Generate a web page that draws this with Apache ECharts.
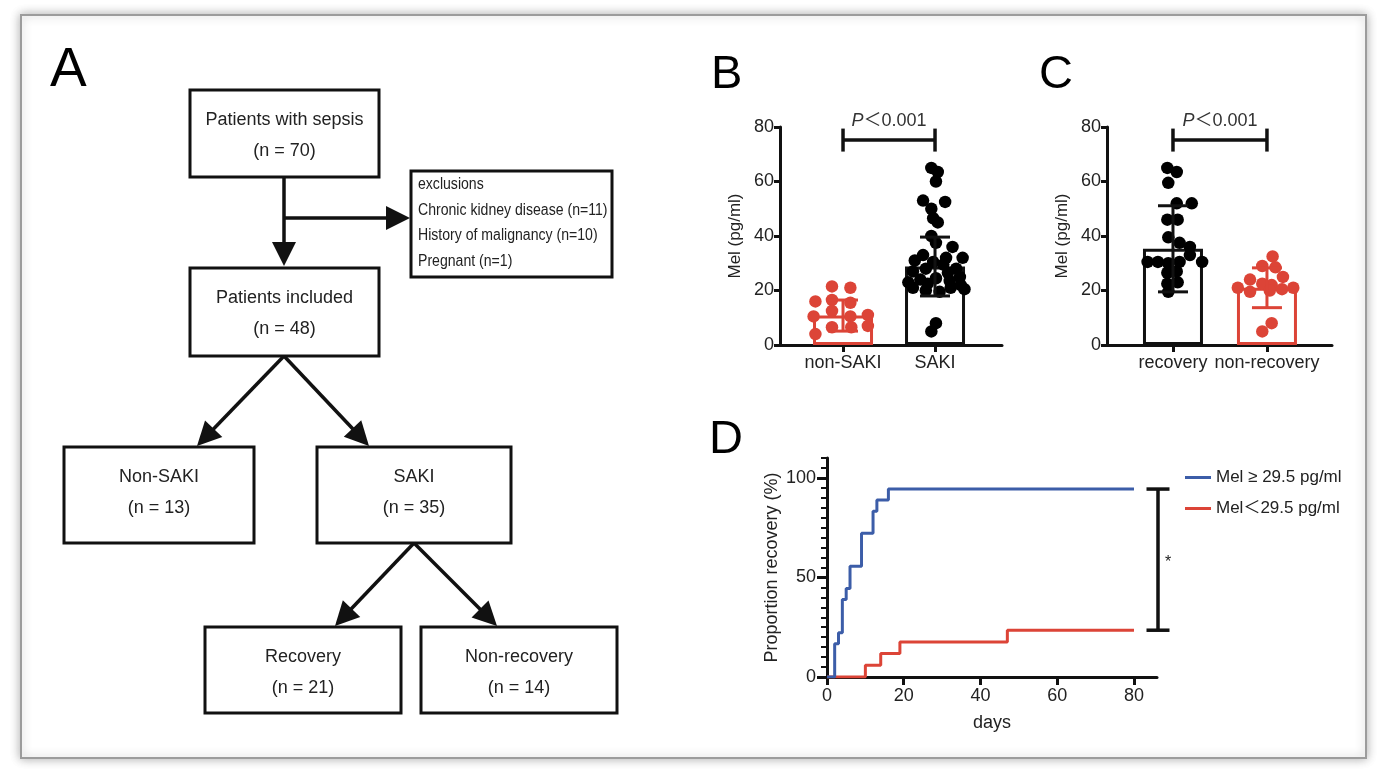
<!DOCTYPE html>
<html><head><meta charset="utf-8">
<script src="https://cdn.jsdelivr.net/npm/echarts@6/dist/echarts.min.js"></script>
<style>html,body{margin:0;padding:0;background:#fff}#c{width:1386px;height:780px}</style>
</head><body><div id="c"></div>
<script>
// ---------------- DATA ----------------
// Panel B
const groupsB = ['non-SAKI', 'SAKI'];
const nonSakiValues = [21.5, 21, 16, 16.5, 15.5, 12.5, 10.5, 11, 10.5, 6.5, 6.5, 7, 4];
const nonSakiJitter = [-0.12, 0.08, -0.30, -0.12, 0.08, -0.12, -0.32, 0.27, 0.08, -0.12, 0.09, 0.27, -0.30];
const sakiValues = [65, 63.5, 60, 53, 52.5, 50, 46.5, 45, 40, 37.5, 36, 33, 32, 32, 31, 30.5, 29.5, 28, 28, 27, 26.5, 25, 24.5, 24, 23.5, 23, 22.5, 22, 21, 21, 20.5, 20, 19.5, 8, 5];
const sakiJitter = [-0.04, 0.03, 0.01, -0.13, 0.11, -0.04, -0.02, 0.03, -0.04, 0.01, 0.19, -0.13, 0.12, 0.30, -0.22, -0.02, 0.09, -0.10, 0.23, -0.24, 0.14, 0.27, 0.01, -0.16, 0.16, -0.29, -0.08, 0.28, -0.24, 0.17, 0.32, -0.10, 0.05, 0.01, -0.04];
const barMeansB = [10.8, 28.8];
const barSDB = [5.7, 10.8];
const pTextB = 'P＜0.001';

// Panel C
const groupsC = ['recovery', 'non-recovery'];
const recoveryValues = [65, 63.5, 59.5, 52, 52, 46, 46, 39.5, 37.5, 36, 30.5, 30.5, 30, 30.5, 33, 30.5, 26.5, 27, 22.5, 23, 19.5];
const recoveryJitter = [-0.06, 0.04, -0.05, 0.04, 0.20, -0.06, 0.05, -0.05, 0.07, 0.18, -0.27, -0.16, -0.05, 0.07, 0.18, 0.31, -0.06, 0.04, -0.06, 0.05, -0.05];
const nonRecoveryValues = [32.5, 29, 28.5, 25, 24, 22.5, 22, 21, 21, 20.5, 20, 19.5, 8, 5];
const nonRecoveryJitter = [0.06, -0.05, 0.09, 0.17, -0.18, -0.05, 0.05, -0.31, 0.28, 0.16, 0.03, -0.18, 0.05, -0.05];
const barMeansC = [35.3, 21.0];
const barSDC = [15.8, 7.3];
const pTextC = 'P＜0.001';

// Panel D (Kaplan-Meier style recovery curves)
const kmHighDays = [0, 2, 3, 4, 5, 6, 9, 12, 13, 16, 80];
const kmHighPct  = [0, 16.7, 22.2, 38.9, 44.4, 55.6, 72.2, 83.3, 88.9, 94.4, 94.4];
const kmLowDays  = [0, 10, 14, 19, 47, 80];
const kmLowPct   = [0, 5.9, 11.8, 17.6, 23.5, 23.5];
const legendNames = ['Mel ≥ 29.5 pg/ml', 'Mel＜29.5 pg/ml'];
const starText = '*';

// Tick labels
const yTicksBC = [0, 20, 40, 60, 80];
const xTicksD = [0, 20, 40, 60, 80];
const yTicksD = [0, 50, 100];
const yMinorTicksD = [0,5,10,15,20,25,30,35,40,45,50,55,60,65,70,75,80,85,90,95,100,105,110];

// Panel A flowchart text
const panelLetters = ['A', 'B', 'C', 'D'];
const flowTexts = [
  ['Patients with sepsis', '(n = 70)'],
  ['Patients included', '(n = 48)'],
  ['Non-SAKI', '(n = 13)'],
  ['SAKI', '(n = 35)'],
  ['Recovery', '(n = 21)'],
  ['Non-recovery', '(n = 14)']
];
const exclusionTexts = ['exclusions', 'Chronic kidney disease (n=11)', 'History of malignancy (n=10)', 'Pregnant (n=1)'];

// ---------------- LAYOUT / STYLE ----------------
const FONT = '"Liberation Sans", Arial, "Noto Sans CJK SC", sans-serif';
const BLACK = '#111';
const RED = '#dc4437';
const BLUE = '#3c5da8';
const TXT = '#222';
const DOT = 12.5;

const flowRects = [[190,90,189,87],[190,268,189,88],[64,447,190,96],[317,447,194,96],[205,627,196,86],[421,627,196,86]];
const exclRect = [411,171,201,106];
const exclLineOffsets = [14, 40, 65, 91];
const arrows = [[284,177,284,266],[284,218,410,218],[284,356,197,446],[284,356,369,446],[414,543,335,626],[414,543,497,626]];
const letterPos = [[50,71,55],[711,75,47],[1039,75,47],[709,440,47]];

// ---------------- BUILD ----------------
const chart = echarts.init(document.getElementById('c'));
const graphics = [];
graphics.push({type:'rect', z:-5, shape:{x:21,y:15,width:1345,height:743},
  style:{fill:'#fff', stroke:'#9c9c9c', lineWidth:2, shadowBlur:10, shadowColor:'rgba(0,0,0,0.3)'}});
panelLetters.forEach((l,i)=>{
  const p = letterPos[i];
  graphics.push({type:'text', z:5, x:p[0], y:p[1], style:{text:l, fontSize:p[2], fontFamily:FONT, fill:'#000', align:'left', verticalAlign:'middle'}});
});
flowRects.forEach((r,i)=>{
  graphics.push({type:'rect', z:5, shape:{x:r[0],y:r[1],width:r[2],height:r[3]}, style:{fill:'#fff', stroke:BLACK, lineWidth:3}});
  flowTexts[i].forEach((t,j)=>{
    graphics.push({type:'text', z:6, x:r[0]+r[2]/2, y:r[1]+30+31*j, style:{text:t, fontSize:18, fontFamily:FONT, fill:TXT, align:'center', verticalAlign:'middle'}});
  });
});
graphics.push({type:'rect', z:5, shape:{x:exclRect[0],y:exclRect[1],width:exclRect[2],height:exclRect[3]}, style:{fill:'#fff', stroke:BLACK, lineWidth:3}});
exclusionTexts.forEach((t,j)=>{
  graphics.push({type:'text', z:6, x:exclRect[0]+7, y:exclRect[1]+exclLineOffsets[j], scaleX:0.88,
    style:{text:t, fontSize:16, fontFamily:FONT, fill:TXT, align:'left', verticalAlign:'middle'}});
});
arrows.forEach(a=>{
  const dx=a[2]-a[0], dy=a[3]-a[1], L=Math.hypot(dx,dy), ux=dx/L, uy=dy/L;
  const hl=24, hw=12;
  const bx=a[2]-ux*hl, by=a[3]-uy*hl;
  graphics.push({type:'line', z:4, shape:{x1:a[0],y1:a[1],x2:bx+ux*2,y2:by+uy*2}, style:{stroke:BLACK, lineWidth:3.5}});
  graphics.push({type:'polygon', z:4, shape:{points:[[a[2],a[3]],[bx-uy*hw,by+ux*hw],[bx+uy*hw,by-ux*hw]]}, style:{fill:BLACK}});
});

function jitterPoints(values, jitter, pos){ return values.map((v,i)=>[pos+jitter[i], v]); }

function errRender(colors){
  return function(params, api){
    const x=api.value(0), m=api.value(1), s=api.value(2);
    const top=api.coord([x,m+s]), bot=api.coord([x,m-s]);
    const hw=15, st={stroke:colors[params.dataIndex], lineWidth:3, fill:null};
    return {type:'group', children:[
      {type:'line', shape:{x1:top[0],y1:top[1],x2:bot[0],y2:bot[1]}, style:st},
      {type:'line', shape:{x1:top[0]-hw,y1:top[1],x2:top[0]+hw,y2:top[1]}, style:st},
      {type:'line', shape:{x1:bot[0]-hw,y1:bot[1],x2:bot[0]+hw,y2:bot[1]}, style:st}
    ]};
  };
}
function bracketRender(label){
  return function(params, api){
    const a=api.coord([api.value(0), api.value(2)]), b=api.coord([api.value(1), api.value(2)]);
    const c=11.5, st={stroke:BLACK, lineWidth:3.5, fill:null};
    return {type:'group', children:[
      {type:'line', shape:{x1:a[0],y1:a[1],x2:b[0],y2:b[1]}, style:st},
      {type:'line', shape:{x1:a[0],y1:a[1]-c,x2:a[0],y2:a[1]+c}, style:st},
      {type:'line', shape:{x1:b[0],y1:b[1]-c,x2:b[0],y2:b[1]+c}, style:st},
      {type:'text', x:(a[0]+b[0])/2, y:a[1]-19, style:{text:'{i|'+label.slice(0,1)+'}{n|'+label.slice(1)+'}',
        rich:{i:{fontStyle:'italic', fontSize:18, fontFamily:FONT, fill:'#333'}, n:{fontSize:18, fontFamily:FONT, fill:'#333'}},
        align:'center', verticalAlign:'middle'}}
    ]};
  };
}

function yAxisBC(grid){
  return {type:'value', gridIndex:grid, min:0, max:80, interval:20,
    name:'Mel (pg/ml)', nameLocation:'middle', nameGap:36, nameRotate:90,
    nameTextStyle:{fontSize:17, fontFamily:FONT, color:TXT},
    axisLine:{show:true, lineStyle:{color:BLACK, width:3}},
    axisTick:{show:true, length:6, lineStyle:{color:BLACK, width:3}},
    axisLabel:{fontSize:18, fontFamily:FONT, color:TXT, margin:6},
    splitLine:{show:false}};
}
function xAxisBC(grid, min, max, names){
  return {type:'value', gridIndex:grid, min:min, max:max,
    axisLine:{show:true, onZero:false, lineStyle:{color:BLACK, width:3}},
    axisTick:{show:true, length:7, customValues:[1,2], lineStyle:{color:BLACK, width:3}},
    axisLabel:{customValues:[1,2], formatter:v=>names[Math.round(v)-1]||'', fontSize:18, fontFamily:FONT, color:TXT, margin:9},
    splitLine:{show:false}};
}

const option = {
  backgroundColor:'#fff',
  animation:false,
  graphic:graphics,
  grid:[
    {left:780, top:127, width:222, height:218, containLabel:false, outerBoundsMode:'none'},
    {left:1107, top:127, width:225, height:218, containLabel:false, outerBoundsMode:'none'},
    {left:827, top:458, width:330, height:219, containLabel:false, outerBoundsMode:'none'}
  ],
  xAxis:[
    xAxisBC(0, 0.315, 2.728, groupsB),
    xAxisBC(1, 0.298, 2.692, groupsC),
    {type:'value', gridIndex:2, min:0, max:86,
      name:'days', nameLocation:'middle', nameGap:37, nameTextStyle:{fontSize:18, fontFamily:FONT, color:TXT},
      axisLine:{show:true, onZero:false, lineStyle:{color:BLACK, width:3}},
      axisTick:{show:true, length:8, customValues:xTicksD, lineStyle:{color:BLACK, width:3}},
      axisLabel:{customValues:xTicksD, fontSize:18, fontFamily:FONT, color:TXT, margin:10},
      splitLine:{show:false}}
  ],
  yAxis:[
    yAxisBC(0), yAxisBC(1),
    {type:'value', gridIndex:2, min:0, max:110, position:'left',
      name:'Proportion recovery (%)', nameLocation:'middle', nameGap:46, nameRotate:90,
      nameTextStyle:{fontSize:18, fontFamily:FONT, color:TXT},
      axisLine:{show:true, onZero:false, lineStyle:{color:BLACK, width:3}},
      axisTick:{show:true, length:10, customValues:yTicksD, lineStyle:{color:BLACK, width:3}},
      axisLabel:{customValues:yTicksD, fontSize:18, fontFamily:FONT, color:TXT, margin:11},
      splitLine:{show:false}},
    {type:'value', gridIndex:2, min:0, max:110, position:'left', offset:0,
      axisLine:{show:false},
      axisTick:{show:true, length:6, customValues:yMinorTicksD, lineStyle:{color:BLACK, width:2}},
      axisLabel:{show:false}, splitLine:{show:false}}
  ],
  legend:{data:legendNames, orient:'vertical', left:1180, top:464, itemWidth:26, itemHeight:3, itemGap:14, icon:'rect',
    selectedMode:false, textStyle:{fontSize:17, fontFamily:FONT, color:TXT}},
  series:[
    // Panel B
    {type:'bar', xAxisIndex:0, yAxisIndex:0, barWidth:60, silent:true,
      data:barMeansB.map((m,i)=>({value:[i+1,m], itemStyle:{color:'rgba(0,0,0,0)', borderColor:[RED,BLACK][i], borderWidth:3}}))},
    {type:'scatter', xAxisIndex:0, yAxisIndex:0, symbolSize:DOT, itemStyle:{color:RED, opacity:1}, data:jitterPoints(nonSakiValues, nonSakiJitter, 1)},
    {type:'scatter', xAxisIndex:0, yAxisIndex:0, symbolSize:DOT, itemStyle:{color:'#000', opacity:1}, data:jitterPoints(sakiValues, sakiJitter, 2)},
    {type:'custom', xAxisIndex:0, yAxisIndex:0, clip:false, z:5, renderItem:errRender([RED,BLACK]), data:barMeansB.map((m,i)=>[i+1,m,barSDB[i]])},
    {type:'custom', xAxisIndex:0, yAxisIndex:0, clip:false, z:5, renderItem:bracketRender(pTextB), data:[[1,2,75.2]]},
    // Panel C
    {type:'bar', xAxisIndex:1, yAxisIndex:1, barWidth:60, silent:true,
      data:barMeansC.map((m,i)=>({value:[i+1,m], itemStyle:{color:'rgba(0,0,0,0)', borderColor:[BLACK,RED][i], borderWidth:3}}))},
    {type:'scatter', xAxisIndex:1, yAxisIndex:1, symbolSize:DOT, itemStyle:{color:'#000', opacity:1}, data:jitterPoints(recoveryValues, recoveryJitter, 1)},
    {type:'scatter', xAxisIndex:1, yAxisIndex:1, symbolSize:DOT, itemStyle:{color:RED, opacity:1}, data:jitterPoints(nonRecoveryValues, nonRecoveryJitter, 2)},
    {type:'custom', xAxisIndex:1, yAxisIndex:1, clip:false, z:5, renderItem:errRender([BLACK,RED]), data:barMeansC.map((m,i)=>[i+1,m,barSDC[i]])},
    {type:'custom', xAxisIndex:1, yAxisIndex:1, clip:false, z:5, renderItem:bracketRender(pTextC), data:[[1,2,75.2]]},
    // Panel D
    {type:'line', name:legendNames[1], xAxisIndex:2, yAxisIndex:2, step:'end', symbol:'none', color:RED,
      lineStyle:{color:RED, width:3}, data:kmLowDays.map((d,i)=>[d,kmLowPct[i]])},
    {type:'line', name:legendNames[0], xAxisIndex:2, yAxisIndex:2, step:'end', symbol:'none', color:BLUE,
      lineStyle:{color:BLUE, width:3}, data:kmHighDays.map((d,i)=>[d,kmHighPct[i]])},
    {type:'custom', xAxisIndex:2, yAxisIndex:2, clip:false, z:5,
      renderItem:function(params, api){
        const t=api.coord([api.value(0), api.value(1)]), b=api.coord([api.value(0), api.value(2)]);
        const x=t[0]+1, c=11.5, st={stroke:BLACK, lineWidth:3.5, fill:null};
        return {type:'group', children:[
          {type:'line', shape:{x1:x,y1:t[1],x2:x,y2:b[1]}, style:st},
          {type:'line', shape:{x1:x-c,y1:t[1],x2:x+c,y2:t[1]}, style:st},
          {type:'line', shape:{x1:x-c,y1:b[1],x2:x+c,y2:b[1]}, style:st},
          {type:'text', x:x+7, y:(t[1]+b[1])/2+3, style:{text:starText, fontSize:16, fontFamily:FONT, fill:TXT, align:'left', verticalAlign:'middle'}}
        ]};
      },
      data:[[86, kmHighPct[kmHighPct.length-1], kmLowPct[kmLowPct.length-1]]]}
  ]
};
chart.setOption(option);
</script></body></html>
